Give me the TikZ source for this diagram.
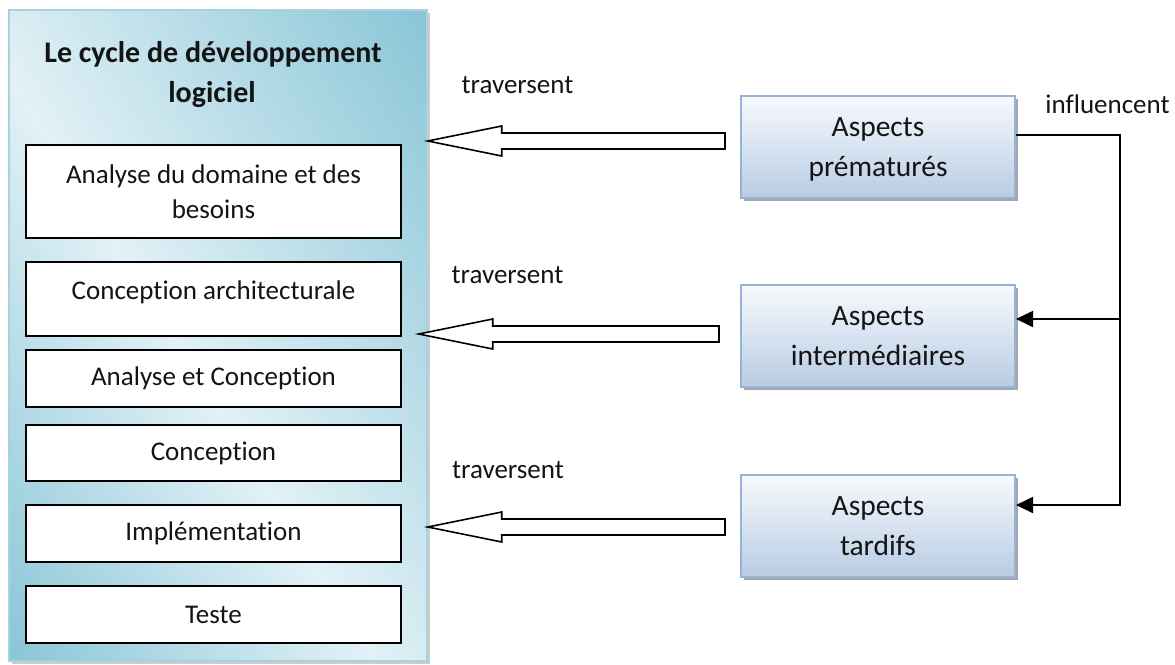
\documentclass[tikz,border=0pt]{standalone}
\usepackage{fontspec}
\setmainfont{Carlito}[Ligatures={NoCommon}]
\usetikzlibrary{shadows,arrows.meta,calc}

\definecolor{panelDark}{HTML}{8AC6D7}
\definecolor{panelLight}{HTML}{E2F1F6}
\definecolor{panelEdge}{HTML}{A6D3DF}
\definecolor{aspTop}{HTML}{F8FAFD}
\definecolor{aspBot}{HTML}{B8CCE4}
\definecolor{aspEdge}{HTML}{95B3D7}
\definecolor{ink}{HTML}{141414}

% diagonal teal wash of the life-cycle panel
\pgfdeclarehorizontalshading{panelshade}{100bp}{color(0bp)=(panelDark); color(16bp)=(panelDark); color(46bp)=(panelLight); color(84bp)=(panelDark); color(100bp)=(panelDark)}

\newcommand{\hollowarrow}[2]{%
  \draw[hollow] let \p1=(#1), \p2=(#2) in
    (\p1) -- (\x1+74pt,\y1+15pt) -- (\x1+74pt,\y1+8pt) -- (\x2,\y1+8pt)
    -- (\x2,\y1-8pt) -- (\x1+74pt,\y1-8pt) -- (\x1+74pt,\y1-15pt) -- cycle;}

\begin{document}
\begin{tikzpicture}[x=1pt,y=-1pt,
  every node/.style={text=ink},
  panelbox/.style={draw=panelEdge, line width=1.5pt, shading=panelshade, shading angle=32,
    minimum width=418pt, minimum height=651pt, inner sep=0pt,
    general shadow={shadow xshift=2.5pt, shadow yshift=-2.5pt, fill=black!20}},
  phase/.style={draw=black, line width=1.8pt, fill=white, minimum width=375pt, inner sep=0pt,
    font=\fontsize{27}{35}\selectfont, align=center},
  phaseline/.style={font=\fontsize{27}{35}\selectfont, anchor=base},
  aspect/.style={draw=aspEdge, line width=2pt, top color=aspTop, bottom color=aspBot,
    minimum width=274pt, minimum height=102pt, inner sep=0pt,
    general shadow={shadow xshift=3pt, shadow yshift=-3pt, fill=black!35}},
  aspecttext/.style={font=\fontsize{29.5}{40}\selectfont, anchor=base},
  titletext/.style={font=\bfseries\fontsize{30}{40}\selectfont, anchor=base},
  verb/.style={font=\fontsize{27}{35}\selectfont, anchor=base},
  hollow/.style={draw=black, line width=1.6pt, fill=white, line join=miter},
  link/.style={draw=black, line width=1.8pt},
  linkhead/.style={-{Triangle[length=17pt,width=16pt]}}
]
\useasboundingbox (0,0) rectangle (1175,664);
\fill[white] (0,0) rectangle (1175,664);

% life-cycle panel
\node[panelbox] (panel) at (218,335.5) {};
\node[titletext] (title1) at (213,62) {Le cycle de développement};
\node[titletext] (title2) at (212,102) {logiciel};

% phases
\node[phase, minimum height=93pt] (p1) at (213.5,191.5) {Analyse du domaine et des\\besoins};
\node[phase, minimum height=74pt] (p2) at (213.5,299) {};
\node[phaseline] (p2text) at (p2.center) {Conception architecturale};
\node[phase, minimum height=57pt] (p3) at (213.5,378.5) {Analyse et Conception};
\node[phase, minimum height=56pt] (p4) at (213.5,453) {Conception};
\node[phase, minimum height=57pt] (p5) at (213.5,533.5) {Implémentation};
\node[phase, minimum height=57pt] (p6) at (213.5,614.5) {Teste};

% aspects
\node[aspect] (early) at (878,147) {};
\node[aspecttext] (early1) at ($(early.center)+(0,-10.5)$) {Aspects};
\node[aspecttext] (early2) at ($(early.center)+(0,29.5)$) {prématurés};
\node[aspect] (mid) at (878,335.5) {};
\node[aspecttext] (mid1) at ($(mid.center)+(0,-10.5)$) {Aspects};
\node[aspecttext] (mid2) at ($(mid.center)+(0,29.5)$) {intermédiaires};
\node[aspect] (late) at (878,525.5) {};
\node[aspecttext] (late1) at ($(late.center)+(0,-10.5)$) {Aspects};
\node[aspecttext] (late2) at ($(late.center)+(0,29.5)$) {tardifs};

% "traversent" arrows
\coordinate (h1tip) at (panel.east |- 0,141);
\coordinate (h1tail) at ([xshift=-15pt]early.west |- 0,141);
\coordinate (h2tip) at ([xshift=-9pt]panel.east |- 0,334);
\coordinate (h2tail) at ([xshift=-21pt]mid.west |- 0,334);
\coordinate (h3tip) at (panel.east |- 0,527);
\coordinate (h3tail) at ([xshift=-15pt]late.west |- 0,527);
\hollowarrow{h1tip}{h1tail}
\hollowarrow{h2tip}{h2tail}
\hollowarrow{h3tip}{h3tail}
\node[verb] (tr1) at (517.5,93) {traversent};
\node[verb] (tr2) at (507.5,283) {traversent};
\node[verb] (tr3) at (508,478) {traversent};

% "influencent" links
\coordinate (outA) at ([yshift=12pt]early.east);
\coordinate (inA) at ([yshift=16.5pt]mid.east);
\coordinate (inB) at ([yshift=20.5pt]late.east);
\coordinate (bus) at (1120,0);
\draw[link, linkhead] (outA) -| (bus |- inB) -- (inB);
\draw[link, linkhead] (bus |- inA) -- (inA);
\node[verb] (infl) at (1107.5,113) {influencent};
\end{tikzpicture}
\end{document}
